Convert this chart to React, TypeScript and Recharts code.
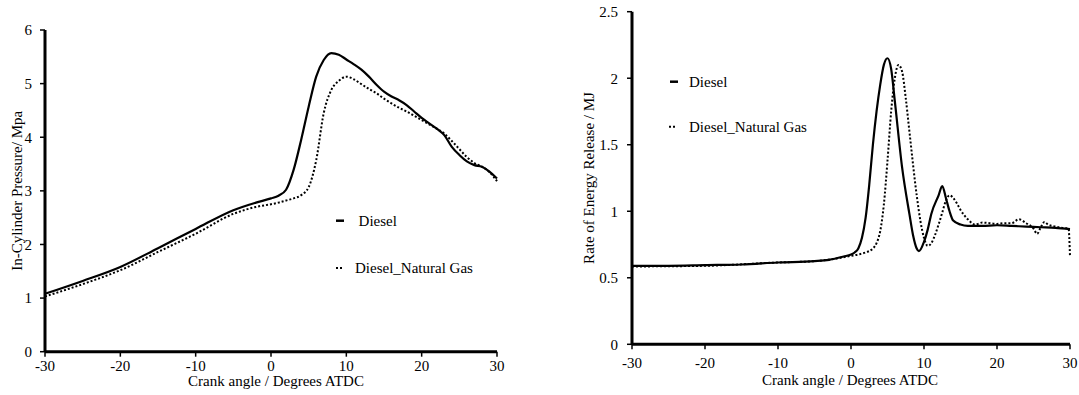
import { LineChart, Line, XAxis, YAxis, Legend, Label } from 'recharts';

// crank angle grid for the pressure traces (deg ATDC)
const pressureAngles = [
  -30, -25, -20, -15, -10, -5, -2, 0, 1, 2, 3, 4, 5, 6, 7, 8, 9, 10, 11, 12, 13, 14, 15,
  16, 17, 18, 19, 20, 21, 22, 23, 24, 25, 26, 27, 28, 29, 30,
];
const dieselPressure = [
  1.08, 1.32, 1.58, 1.93, 2.29, 2.64, 2.78, 2.86, 2.91, 3.02, 3.39, 3.95, 4.57, 5.13, 5.44,
  5.57, 5.54, 5.45, 5.36, 5.26, 5.13, 4.98, 4.85, 4.76, 4.69, 4.6, 4.48, 4.36, 4.26, 4.16,
  4.04, 3.82, 3.67, 3.55, 3.48, 3.45, 3.36, 3.23,
];
const dualFuelPressure = [
  1.03, 1.26, 1.52, 1.86, 2.2, 2.57, 2.7, 2.75, 2.78, 2.82, 2.86, 2.92, 3.07, 3.57, 4.45,
  4.88, 5.05, 5.13, 5.08, 4.99, 4.9, 4.82, 4.72, 4.63, 4.55, 4.48, 4.4, 4.32, 4.24, 4.16,
  4.07, 3.93, 3.78, 3.63, 3.52, 3.45, 3.35, 3.18,
];

// rate of energy release traces
const dieselReleaseAngles = [
  -30, -25, -20, -15, -10, -5, -3, -1, 0, 0.5, 1, 1.5, 2, 2.5, 3, 3.5, 4, 4.5, 5, 5.5, 6, 7,
  8, 8.5, 9, 9.3, 10, 10.5, 11, 12, 12.5, 13, 13.5, 14, 15, 16, 18, 20, 22, 24, 26, 28, 30,
];
const dieselRelease = [
  0.59, 0.59, 0.595, 0.6, 0.615, 0.625, 0.635, 0.66, 0.675, 0.69, 0.72, 0.8, 0.95, 1.2, 1.5,
  1.75, 1.95, 2.1, 2.15, 2.07, 1.83, 1.33, 0.98, 0.82, 0.72, 0.7, 0.77, 0.86, 0.98, 1.12,
  1.19, 1.1, 1.0, 0.93, 0.9, 0.89, 0.89, 0.895, 0.89, 0.885, 0.88, 0.875, 0.865,
];
const dualFuelReleaseAngles = [
  -30, -20, -10, -5, -2, 0, 1, 2, 3, 3.5, 4, 4.5, 5, 5.5, 6, 6.5, 7, 7.5, 8, 9, 9.5, 10,
  10.5, 11, 11.5, 12, 12.5, 13, 13.5, 14, 14.5, 15, 16, 17, 18, 19, 20, 21, 22, 23, 24, 25,
  25.5, 26, 26.5, 27, 28, 29, 29.8, 30,
];
const dualFuelRelease = [
  0.585, 0.59, 0.615, 0.625, 0.645, 0.665, 0.675, 0.69, 0.72, 0.76, 0.85, 1.05, 1.38, 1.75,
  2.0, 2.1, 2.05, 1.85, 1.6, 1.12, 0.93, 0.8, 0.74, 0.76, 0.82, 0.9, 0.99, 1.08, 1.12, 1.1,
  1.06, 1.01, 0.94, 0.9, 0.915, 0.91, 0.905, 0.91, 0.91, 0.94, 0.91, 0.87, 0.83, 0.88, 0.92,
  0.9, 0.885, 0.875, 0.87, 0.66,
];

const angleTicks = [-30, -20, -10, 0, 10, 20, 30];
const pressureTicks = [0, 1, 2, 3, 4, 5, 6];
const releaseTicks = [0, 0.5, 1, 1.5, 2, 2.5];

const seriesNames = ['Diesel', 'Diesel_Natural Gas'];
const angleTitle = 'Crank angle / Degrees ATDC';
const pressureTitle = 'In-Cylinder Pressure/ Mpa';
const releaseTitle = 'Rate of Energy Release / MJ';

const FONT = "'Liberation Serif', 'Times New Roman', Times, serif";
const tickStyle = { fill: '#000', fontSize: 15, fontFamily: FONT };
const axisLine = { stroke: '#000', strokeWidth: 3 };
const tickLine = { stroke: '#000', strokeWidth: 1.5 };

const toRows = (xs: number[], ys: number[]) => xs.map((angle, i) => ({ angle, value: ys[i] }));

function XTitle(props: any) {
  const { viewBox, value, dx = 0, dy = 0 } = props;
  if (!viewBox) return null;
  const x = viewBox.x + viewBox.width / 2 + dx;
  return (
    <text x={x} y={viewBox.y + dy} textAnchor="middle" fill="#000" fontSize={15} fontFamily={FONT}>
      {value}
    </text>
  );
}

function YTitle(props: any) {
  const { viewBox, value, dx = 0 } = props;
  if (!viewBox) return null;
  const cx = viewBox.x + dx;
  const cy = viewBox.y + viewBox.height / 2;
  return (
    <text
      x={cx}
      y={cy}
      transform={`rotate(-90, ${cx}, ${cy})`}
      textAnchor="middle"
      dominantBaseline="central"
      fill="#000"
      fontSize={15}
      fontFamily={FONT}
    >
      {value}
    </text>
  );
}

interface LegendLayout {
  dashX: number;
  dashY: number;
  dieselTextX: number;
  dotsX: number;
  dotsY: number;
  gasTextX: number;
}

function SeriesLegend({ l }: { l: LegendLayout }) {
  const text = {
    position: 'absolute' as const,
    fontFamily: FONT,
    fontSize: 15,
    lineHeight: '18px',
    color: '#000',
    whiteSpace: 'nowrap' as const,
  };
  return (
    <div style={{ position: 'relative', width: 220, height: 100 }}>
      <svg width={220} height={100} style={{ position: 'absolute', left: 0, top: 0 }}>
        <line x1={l.dashX} x2={l.dashX + 8} y1={l.dashY} y2={l.dashY} stroke="#000" strokeWidth={2.5} />
        <line x1={l.dotsX} x2={l.dotsX + 6} y1={l.dotsY} y2={l.dotsY} stroke="#000" strokeWidth={2} strokeDasharray="2 2" />
      </svg>
      <span style={{ ...text, left: l.dieselTextX, top: l.dashY - 9 }}>{seriesNames[0]}</span>
      <span style={{ ...text, left: l.gasTextX, top: l.dotsY - 9 }}>{seriesNames[1]}</span>
    </div>
  );
}

function PressureChart() {
  return (
    <LineChart width={540} height={395} margin={{ top: 30, right: 43, bottom: 13.3, left: 5 }}>
      <XAxis
        type="number"
        dataKey="angle"
        domain={[-30, 30]}
        ticks={angleTicks}
        height={30}
        tick={tickStyle}
        tickSize={5}
        tickMargin={4}
        axisLine={axisLine}
        tickLine={tickLine}
      >
        <Label content={<XTitle value={angleTitle} dx={5} dy={34} />} />
      </XAxis>
      <YAxis
        type="number"
        domain={[0, 6]}
        ticks={pressureTicks}
        width={40}
        tick={tickStyle}
        tickSize={5}
        tickMargin={8}
        axisLine={axisLine}
        tickLine={tickLine}
      >
        <Label content={<YTitle value={pressureTitle} dx={12} />} />
      </YAxis>
      <Legend
        layout="vertical"
        align="center"
        verticalAlign="middle"
        wrapperStyle={{ left: 330, top: 200, width: 220 }}
        content={() => (
          <SeriesLegend l={{ dashX: 6, dashY: 20.7, dieselTextX: 28.6, dotsX: 6, dotsY: 68, gasTextX: 25 }} />
        )}
      />
      <Line data={toRows(pressureAngles, dieselPressure)} dataKey="value" name={seriesNames[0]} type="monotone" stroke="#000" strokeWidth={2.2} dot={false} isAnimationActive={false} />
      <Line data={toRows(pressureAngles, dualFuelPressure)} dataKey="value" name={seriesNames[1]} type="monotone" stroke="#000" strokeWidth={2} strokeDasharray="2 2" dot={false} isAnimationActive={false} />
    </LineChart>
  );
}

function ReleaseChart() {
  return (
    <LineChart width={539} height={395} margin={{ top: 11.7, right: 9, bottom: 20.7, left: 32 }}>
      <XAxis
        type="number"
        dataKey="angle"
        domain={[-30, 30]}
        ticks={angleTicks}
        height={30}
        tick={tickStyle}
        tickSize={5}
        tickMargin={8}
        axisLine={axisLine}
        tickLine={tickLine}
      >
        <Label content={<XTitle value={angleTitle} dx={-1} dy={41} />} />
      </XAxis>
      <YAxis
        type="number"
        domain={[0, 2.5]}
        ticks={releaseTicks}
        width={60}
        tick={tickStyle}
        tickSize={5}
        tickMargin={9}
        axisLine={axisLine}
        tickLine={tickLine}
      >
        <Label content={<YTitle value={releaseTitle} dx={17} />} />
      </YAxis>
      <Legend
        layout="vertical"
        align="center"
        verticalAlign="middle"
        wrapperStyle={{ left: 120, top: 60, width: 220 }}
        content={() => (
          <SeriesLegend l={{ dashX: 10, dashY: 21.7, dieselTextX: 29, dotsX: 9, dotsY: 66.7, gasTextX: 29 }} />
        )}
      />
      <Line data={toRows(dieselReleaseAngles, dieselRelease)} dataKey="value" name={seriesNames[0]} type="monotone" stroke="#000" strokeWidth={2.2} dot={false} isAnimationActive={false} />
      <Line data={toRows(dualFuelReleaseAngles, dualFuelRelease)} dataKey="value" name={seriesNames[1]} type="monotone" stroke="#000" strokeWidth={2} strokeDasharray="2 2" dot={false} isAnimationActive={false} />
    </LineChart>
  );
}

export default function App() {
  return (
    <div style={{ position: 'absolute', left: 0, top: 0, width: 1079, height: 395, background: '#fff', fontFamily: FONT }}>
      <div style={{ position: 'absolute', left: 0, top: 0 }}>
        <PressureChart />
      </div>
      <div style={{ position: 'absolute', left: 540, top: 0 }}>
        <ReleaseChart />
      </div>
    </div>
  );
}
